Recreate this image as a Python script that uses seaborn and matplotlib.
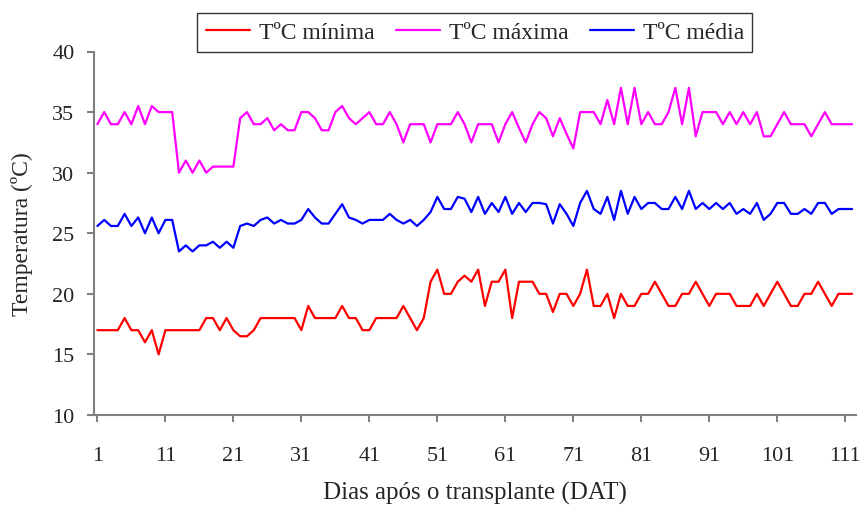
import matplotlib
matplotlib.use("Agg")
import matplotlib.pyplot as plt
import numpy as np
import pandas as pd
import seaborn as sns

days = list(range(1, 113))

t_min = [17, 17, 17, 17, 18, 17, 17, 16, 17, 15, 17, 17,
         17, 17, 17, 17, 18, 18, 17, 18, 17,
         16.5, 16.5, 17, 18, 18, 18, 18, 18,
         18, 17, 19, 18, 18, 18, 18, 19, 18, 18, 17, 17,
         18, 18, 18, 18, 19, 18, 17, 18,
         21, 22, 20, 20, 21, 21.5, 21, 22,
         19, 21, 21, 22, 18, 21, 21, 21, 20, 20, 18.5, 20,
         20, 19, 20, 22, 19, 19, 20, 18, 20, 19, 19, 20,
         20, 21, 20, 19, 19, 20, 20, 21, 20, 19, 20, 20,
         20, 19, 19, 19, 20, 19, 20, 21, 20, 19, 19, 20,
         20, 21, 20, 19, 20, 20, 20]

t_max = [34, 35, 34, 34, 35, 34, 35.5, 34, 35.5, 35, 35, 35,
         30, 31, 30, 31, 30, 30.5, 30.5, 30.5, 30.5,
         34.5, 35, 34, 34, 34.5, 33.5, 34, 33.5,
         33.5, 35, 35, 34.5, 33.5, 33.5, 35, 35.5, 34.5, 34, 34.5, 35,
         34, 34, 35, 34, 32.5, 34, 34, 34,
         32.5, 34, 34, 34, 35, 34, 32.5, 34,
         34, 34, 32.5, 34, 35, 33.7, 32.5, 34, 35, 34.5, 33, 34.5,
         33.2, 32, 35, 35, 35, 34, 36, 34, 37, 34, 37, 34,
         35, 34, 34, 35, 37, 34, 37, 33, 35, 35, 35, 34,
         35, 34, 35, 34, 35, 33, 33, 34, 35, 34, 34, 34,
         33, 34, 35, 34, 34, 34, 34]

t_med = [25.6, 26.1, 25.6, 25.6, 26.6, 25.6, 26.3, 25.0, 26.3, 25.0, 26.1, 26.1,
         23.5, 24.0, 23.5, 24.0, 24.0, 24.3, 23.8, 24.3, 23.8,
         25.6, 25.8, 25.6, 26.1, 26.3, 25.8, 26.1, 25.8,
         25.8, 26.1, 27.0, 26.3, 25.8, 25.8, 26.6, 27.4, 26.3, 26.1, 25.8, 26.1,
         26.1, 26.1, 26.6, 26.1, 25.8, 26.1, 25.6, 26.1,
         26.75, 28.0, 27.0, 27.0, 28.0, 27.85, 26.75, 28.0,
         26.6, 27.5, 26.75, 28.0, 26.6, 27.5, 26.75, 27.5, 27.5, 27.4, 25.8, 27.4,
         26.6, 25.6, 27.5, 28.5, 27.0, 26.6, 28.0, 26.1, 28.5, 26.6, 28.0, 27.0,
         27.5, 27.5, 27.0, 27.0, 28.0, 27.0, 28.5, 27.0, 27.5, 27.0, 27.5, 27.0,
         27.5, 26.6, 27.0, 26.6, 27.5, 26.1, 26.6, 27.5, 27.5, 26.6, 26.6, 27.0,
         26.6, 27.5, 27.5, 26.6, 27.0, 27.0, 27.0]

series_names = ["TºC mínima", "TºC máxima", "TºC média"]
series_colors = ["#FF0000", "#FF00FF", "#0000FF"]
x_ticks = list(range(1, 112, 10))
y_ticks = list(range(10, 41, 5))

df = pd.DataFrame({
    "Dia": days * 3,
    "Temp": t_min + t_max + t_med,
    "Serie": [series_names[0]] * len(days) + [series_names[1]] * len(days) + [series_names[2]] * len(days),
})

sns.set_style("white")
plt.rcParams["font.family"] = ["Liberation Serif", "DejaVu Serif"]

fig = plt.figure(figsize=(8.62, 5.06), dpi=100)
ax = fig.add_axes([94 / 862, 1 - 416 / 506, (855.5 - 94) / 862, (416 - 52.5) / 506])

sns.lineplot(data=df, x="Dia", y="Temp", hue="Serie",
             palette=dict(zip(series_names, series_colors)),
             linewidth=1.6, ax=ax)

ax.set_xlim(0.5, 112.5)
ax.set_ylim(10, 40)
ax.set_xticks(x_ticks)
ax.set_xticklabels([str(t) for t in x_ticks])
ax.set_yticks(y_ticks)

for s in ["top", "right"]:
    ax.spines[s].set_visible(False)
for s in ["left", "bottom"]:
    ax.spines[s].set_color("#808080")
    ax.spines[s].set_linewidth(1.5)

ax.tick_params(axis="y", direction="out", length=5, width=1.5, color="#808080",
               labelsize=16, pad=9, left=True)
ax.tick_params(axis="x", direction="out", length=5, width=1.5, color="#808080",
               labelsize=16, pad=17, bottom=True)

ax.set_ylabel("Temperatura (ºC)", fontsize=17, labelpad=14)
ax.set_xlabel("Dias após o transplante (DAT)", fontsize=18, labelpad=12)

leg = ax.legend(loc="lower center", bbox_to_anchor=(0.5, 1.0), ncol=3,
                frameon=True, fancybox=False, edgecolor="black", fontsize=17,
                borderaxespad=0, handlelength=1.9, columnspacing=0.9,
                handletextpad=0.35, borderpad=0.35)
leg.get_frame().set_linewidth(1.0)

fig.savefig("out.png", dpi=100)
